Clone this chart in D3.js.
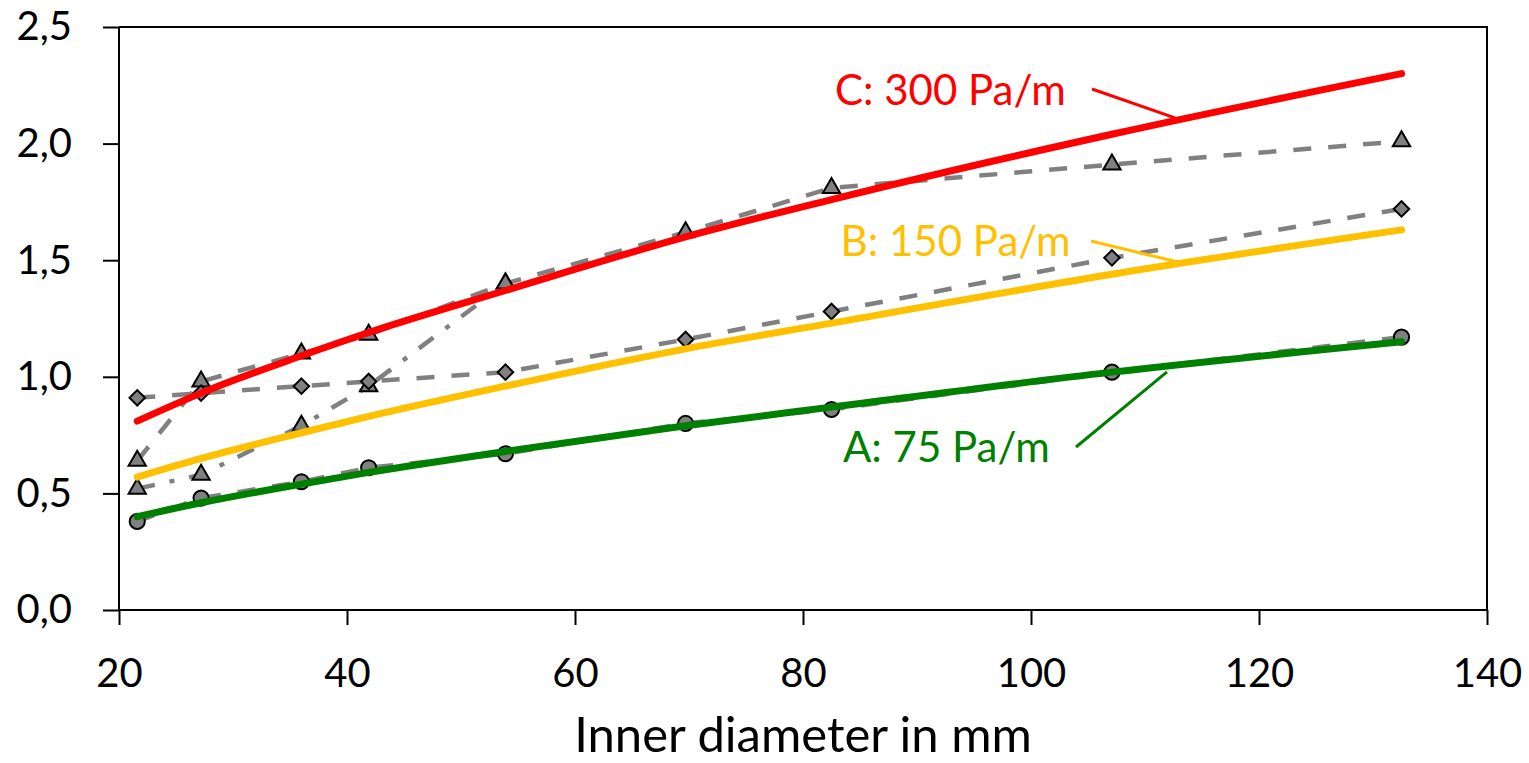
<!DOCTYPE html>
<html>
<head>
<meta charset="utf-8">
<script src="https://cdn.jsdelivr.net/npm/d3@7"></script>
<style>
  html, body { margin: 0; padding: 0; background: #fff; }
  svg { display: block; }
  text { font-family: Lato, "Open Sans", sans-serif; }
</style>
</head>
<body>
<svg id="chart" width="1529" height="763"></svg>
<script>
// ---- data ----
const diameters = [21.6, 27.2, 36.0, 41.9, 53.9, 69.7, 82.5, 107.1, 132.5];
const measA = [0.38, 0.48, 0.55, 0.61, 0.67, 0.80, 0.86, 1.02, 1.17];   // circles
const measB = [0.91, 0.93, 0.96, 0.98, 1.02, 1.16, 1.28, 1.51, 1.72];   // diamonds
const measC = [0.64, 0.98, 1.10, 1.18, 1.40, 1.62, 1.81, 1.91, 2.01];   // triangles, dashed
const measC2 = [0.52, 0.58, 0.79, 0.96, 1.40];                          // triangles, dash-dot
const fitA = [0.40, 0.46, 0.54, 0.59, 0.68, 0.79, 0.87, 1.02, 1.15];
const fitB = [0.57, 0.65, 0.76, 0.83, 0.96, 1.12, 1.23, 1.44, 1.63];
const fitC = [0.81, 0.93, 1.09, 1.19, 1.37, 1.60, 1.76, 2.04, 2.30];
const xTicks = [20, 40, 60, 80, 100, 120, 140];
const yTicks = [0, 0.5, 1.0, 1.5, 2.0, 2.5];
const xTitle = "Inner diameter in mm";
const labels = [
  { text: "C: 300 Pa/m", color: "#FF0000", x: 82.8, y: 2.166, lx1: 105.35, ly1: 2.234, lx2: 112.63, ly2: 2.110 },
  { text: "B: 150 Pa/m", color: "#FFC000", x: 83.3, y: 1.518, lx1: 105.26, ly1: 1.582, lx2: 112.89, ly2: 1.492 },
  { text: "A: 75 Pa/m",  color: "#008000", x: 83.5, y: 0.635, lx1: 103.95, ly1: 0.699, lx2: 111.93, ly2: 1.021 }
];

// ---- layout ----
const margin = { left: 119, top: 27, right: 1529 - 1487, bottom: 763 - 610 };
const W = 1529, H = 763;
const svg = d3.select("#chart");
const x = d3.scaleLinear().domain([20, 140]).range([margin.left, W - margin.right]);
const y = d3.scaleLinear().domain([0, 2.5]).range([H - margin.bottom, margin.top]);
const fmt = v => d3.format(".1f")(v).replace(".", ",");

// frame (top & right)
svg.append("path")
  .attr("d", `M${x(20)},${y(2.5)}H${x(140)}V${y(0)}`)
  .attr("fill", "none").attr("stroke", "#000").attr("stroke-width", 2);

// axes
const gy = svg.append("g").attr("transform", `translate(${x(20)},0)`)
  .call(d3.axisLeft(y).tickValues(yTicks).tickFormat(fmt).tickSize(16).tickPadding(31));
const gx = svg.append("g").attr("transform", `translate(0,${y(0)})`)
  .call(d3.axisBottom(x).tickValues(xTicks).tickSize(15).tickPadding(34));
[gx, gy].forEach(g => {
  g.select(".domain").attr("stroke", "#000").attr("stroke-width", 2);
  g.selectAll(".tick line").attr("stroke", "#000").attr("stroke-width", 2);
  g.selectAll(".tick text").attr("fill", "#000").style("font-size", "40px").style("font-family", "Lato, 'Open Sans', sans-serif");
});
gy.select(".domain").attr("d", `M0,${y(2.5)}V${y(0)}`);
gx.select(".domain").attr("d", `M${x(20)},0H${x(140)}`);

svg.append("text").attr("x", (x(20) + x(140)) / 2 + 0).attr("y", 752)
  .attr("text-anchor", "middle").style("font-size", "49px").attr("fill", "#000").text(xTitle);

// ---- measured series (gray) ----
const gray = "#808080";
const lin = d3.line().x(d => x(d[0])).y(d => y(d[1]));
const zip = (xs, ys) => ys.map((v, i) => [xs[i], v]);

const dashed = [measA, measB, measC];
svg.append("path").datum(zip(diameters, measC2)).attr("d", lin)
  .attr("fill", "none").attr("stroke", gray).attr("stroke-width", 4.5)
  .attr("stroke-dasharray", "18,15,5,15");
dashed.forEach(s => {
  svg.append("path").datum(zip(diameters, s)).attr("d", lin)
    .attr("fill", "none").attr("stroke", gray).attr("stroke-width", 4.5)
    .attr("stroke-dasharray", "18,17");
});

function markers(data, type, size, rot) {
  svg.append("g").selectAll("path").data(data).join("path")
    .attr("d", d3.symbol().type(type).size(size))
    .attr("transform", d => `translate(${x(d[0])},${y(d[1])}) rotate(${rot})`)
    .attr("fill", gray).attr("stroke", "#000").attr("stroke-width", 2);
}
markers(zip(diameters, measC2), d3.symbolTriangle, 130, 0);
markers(zip(diameters, measC), d3.symbolTriangle, 130, 0);
markers(zip(diameters, measB), d3.symbolSquare, 120, 45);
markers(zip(diameters, measA), d3.symbolCircle, 180, 0);

// ---- fitted curves ----
const curve = d3.line().x(d => x(d[0])).y(d => y(d[1])).curve(d3.curveMonotoneX);
[[fitA, "#008000"], [fitB, "#FFC000"], [fitC, "#FF0000"]].forEach(([s, c]) => {
  svg.append("path").datum(zip(diameters, s)).attr("d", curve)
    .attr("fill", "none").attr("stroke", c).attr("stroke-width", 7)
    .attr("stroke-linecap", "round");
});

// ---- labels with leader lines ----
labels.forEach(l => {
  svg.append("line").attr("x1", x(l.lx1)).attr("y1", y(l.ly1)).attr("x2", x(l.lx2)).attr("y2", y(l.ly2))
    .attr("stroke", l.color).attr("stroke-width", 3);
  svg.append("text").attr("x", x(l.x)).attr("y", y(l.y)).attr("fill", l.color)
    .style("font-size", "42px").text(l.text);
});
</script>
</body>
</html>
